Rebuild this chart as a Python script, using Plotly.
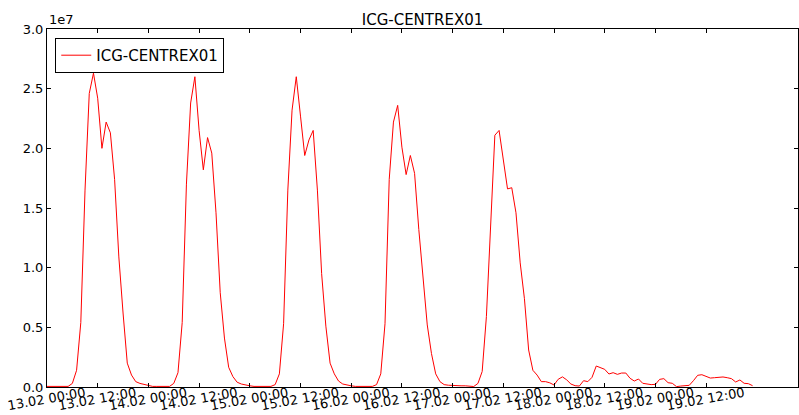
import pandas as pd
import plotly.graph_objects as go

# hourly values (units of 1e7), starting 2000-02-13 00:00
day1 = [0.005, 0.005, 0.005, 0.005, 0.005, 0.005, 0.03, 0.14, 0.54, 1.65, 2.46, 2.63,
        2.42, 2.0, 2.22, 2.13, 1.74, 1.09, 0.62, 0.2, 0.1, 0.045, 0.03, 0.02]
day2 = [0.01, 0.005, 0.005, 0.005, 0.005, 0.005, 0.03, 0.12, 0.54, 1.7, 2.38, 2.6,
        2.15, 1.82, 2.09, 1.96, 1.46, 0.79, 0.41, 0.165, 0.087, 0.04, 0.025, 0.015]
day3 = [0.01, 0.005, 0.005, 0.005, 0.005, 0.005, 0.02, 0.11, 0.53, 1.65, 2.32, 2.6,
        2.27, 1.94, 2.07, 2.15, 1.65, 0.95, 0.51, 0.2, 0.11, 0.05, 0.025, 0.015]
day4 = [0.01, 0.005, 0.005, 0.005, 0.005, 0.005, 0.02, 0.11, 0.53, 1.74, 2.22, 2.36,
        2.01, 1.78, 1.94, 1.79, 1.32, 0.9, 0.52, 0.28, 0.11, 0.045, 0.02, 0.015]
day5 = [0.012, 0.01, 0.01, 0.01, 0.008, 0.004, 0.03, 0.13, 0.59, 1.29, 2.11, 2.15,
        1.89, 1.66, 1.67, 1.46, 1.04, 0.74, 0.31, 0.14, 0.1, 0.045, 0.045, 0.035]
day6 = [0.017, 0.065, 0.085, 0.06, 0.025, 0.011, 0.008, 0.053, 0.045, 0.081, 0.176, 0.159,
        0.148, 0.109, 0.12, 0.106, 0.117, 0.117, 0.073, 0.05, 0.067, 0.031, 0.025, 0.02]
day7 = [0.022, 0.064, 0.07, 0.036, 0.031, 0.003, 0.008, 0.008, 0.014, 0.053, 0.098, 0.103,
        0.092, 0.075, 0.078, 0.081, 0.084, 0.078, 0.07, 0.042, 0.059, 0.031, 0.028, 0.011]

values = day1 + day2 + day3 + day4 + day5 + day6 + day7
times = pd.date_range("2000-02-13 00:00", periods=len(values), freq="h")

tick_times = pd.date_range("2000-02-13 00:00", "2000-02-19 12:00", freq="12h")
tick_labels = [t.strftime("%d.%m %H:%M") for t in tick_times]
y_ticks = [0.0, 0.5, 1.0, 1.5, 2.0, 2.5, 3.0]
y_labels = ["0.0", "0.5", "1.0", "1.5", "2.0", "2.5", "3.0"]

fig = go.Figure()
fig.add_trace(go.Scatter(x=times, y=values, mode="lines", name="ICG-CENTREX01",
                         line=dict(color="#ff0000", width=1)))

font = "DejaVu Sans, sans-serif"
fig.update_layout(
    width=799, height=415,
    margin=dict(l=47, r=1, t=29, b=28),
    paper_bgcolor="white", plot_bgcolor="white",
    font=dict(family=font, size=13, color="black"),
    title=dict(text="ICG-CENTREX01", x=0.5, xref="paper", y=1, yref="paper",
               yanchor="bottom", pad=dict(b=4), font=dict(size=15)),
    showlegend=True,
    legend=dict(x=0.011, y=0.975, xanchor="left", yanchor="top",
                bordercolor="black", borderwidth=1, bgcolor="white",
                font=dict(size=15), tracegroupgap=0),
    annotations=[dict(text="1e7", xref="paper", yref="paper", x=0, y=1,
                      xanchor="left", yanchor="bottom", showarrow=False,
                      font=dict(size=13))],
)
fig.update_xaxes(
    range=[pd.Timestamp("2000-02-13 00:00"), pd.Timestamp("2000-02-20 09:45")],
    tickvals=tick_times, ticktext=tick_labels, tickangle=-10, ticklabelshift=38,
    ticklabelstandoff=-7, automargin=False, tickfont=dict(size=13),
    showline=True, linecolor="black", linewidth=1, mirror="ticks",
    ticks="inside", ticklen=4, tickcolor="black", showgrid=False, zeroline=False,
)
fig.update_yaxes(
    range=[0, 3.0], tickvals=y_ticks, ticktext=y_labels, automargin=False,
    showline=True, linecolor="black", linewidth=1, mirror="ticks",
    ticks="inside", ticklen=4, tickcolor="black", showgrid=False, zeroline=False,
)
fig.write_html("out.html")
